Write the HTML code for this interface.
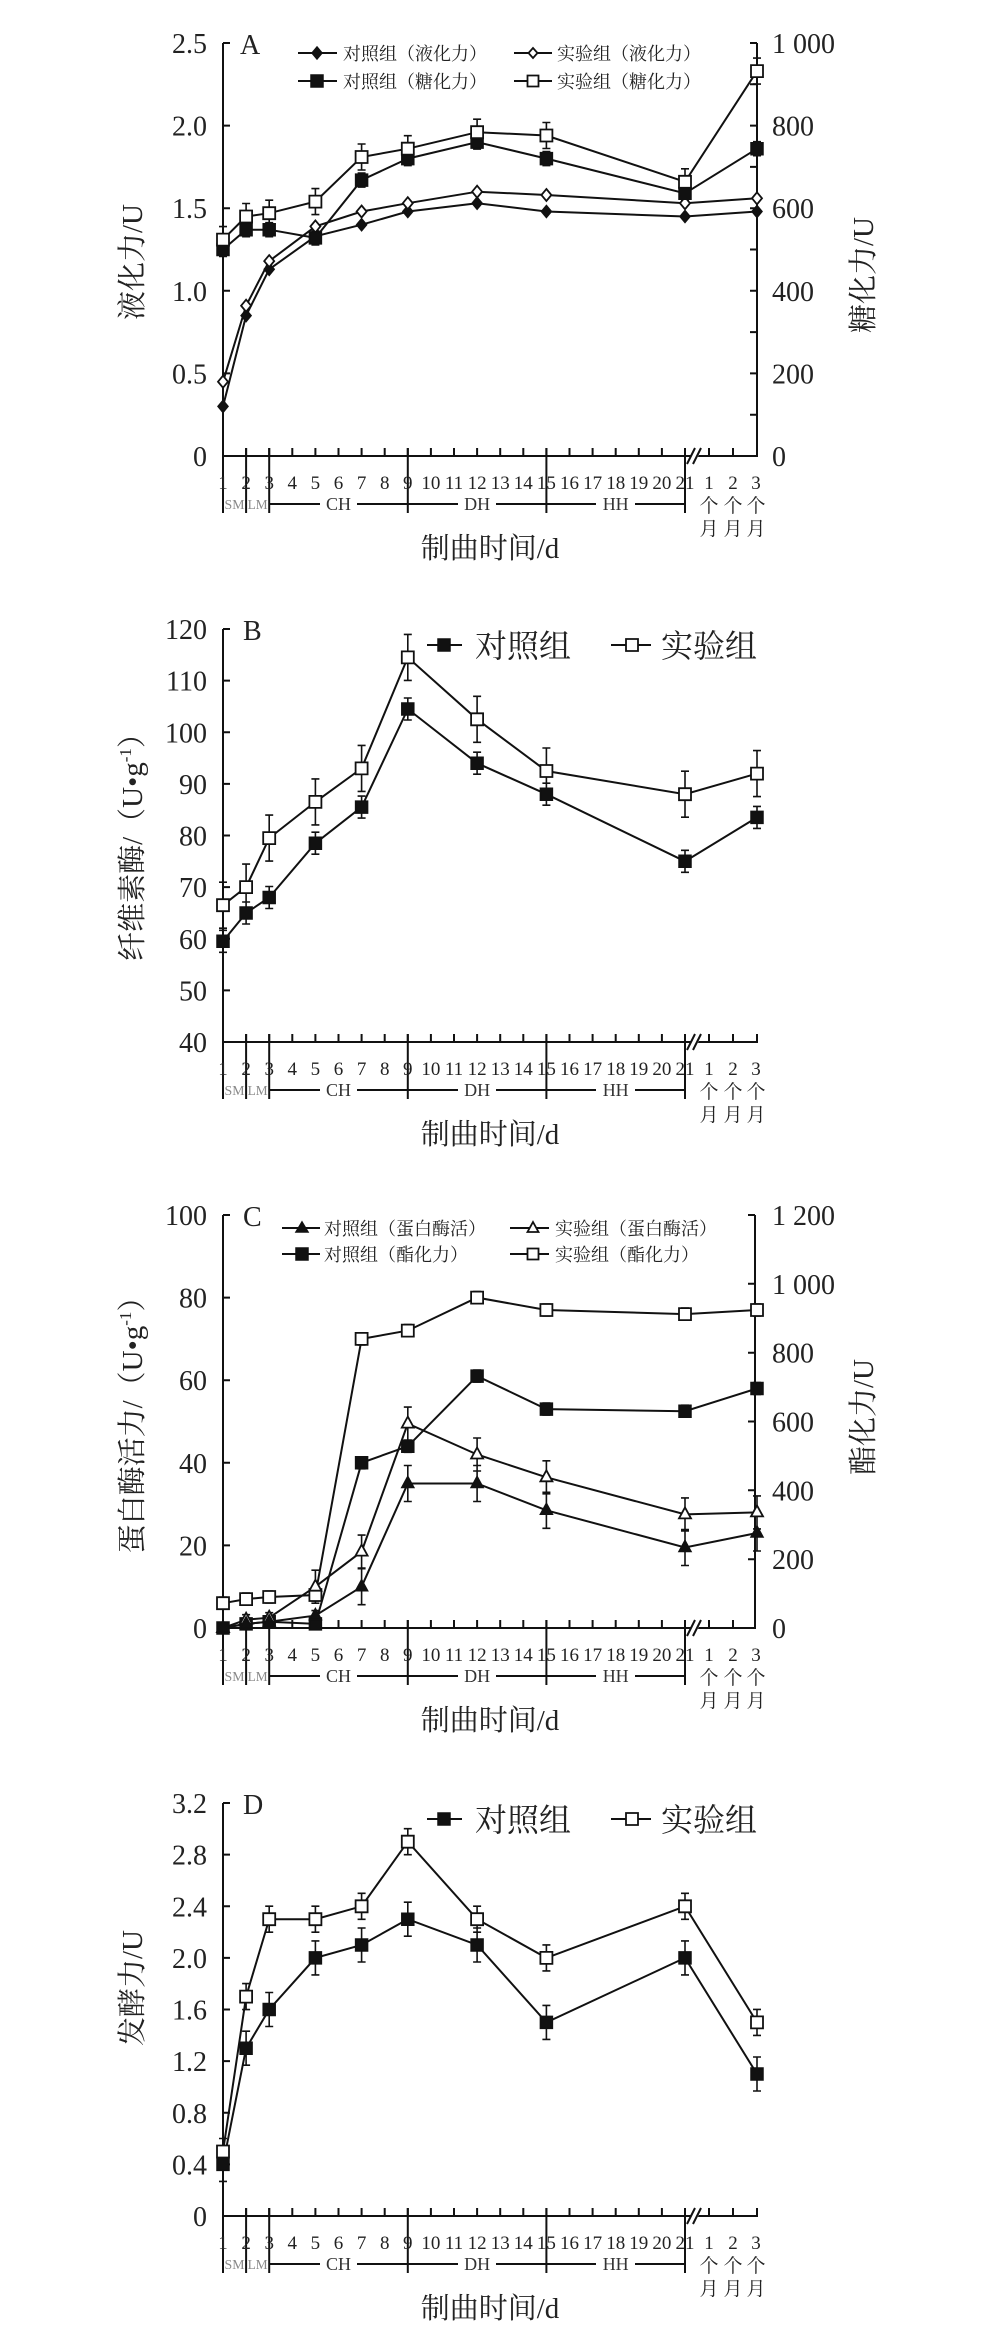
<!DOCTYPE html>
<html><head><meta charset="utf-8"><style>
html,body{margin:0;padding:0;background:#fff}
svg{display:block}
.n{font-family:"Liberation Serif","Noto Serif CJK SC",serif;font-size:28px;fill:#222}
.t{font-family:"Liberation Serif","Noto Serif CJK SC",serif;font-size:19px;fill:#222;text-anchor:middle}
.p{font-family:"Liberation Serif",serif;font-size:18px;fill:#333;text-anchor:middle}
.s{font-family:"Liberation Serif",serif;font-size:14px;fill:#888;text-anchor:middle}
.ti{font-family:"Liberation Serif","Noto Serif CJK SC",serif;font-size:29px;fill:#222;text-anchor:middle}
.lg{font-family:"Liberation Serif","Noto Serif CJK SC",serif;font-size:18px;fill:#222}
.lg2{font-family:"Liberation Serif","Noto Serif CJK SC",serif;font-size:32px;fill:#222}
.ax{stroke:#111;stroke-width:2;fill:none}
.ln{stroke:#111;stroke-width:2;fill:none}
.eb{stroke:#111;stroke-width:1.6;fill:none}
.f{fill:#111;stroke:#111;stroke-width:1.5}
.o{fill:#fff;stroke:#111;stroke-width:1.8}
.e{text-anchor:end}
</style></head><body>
<svg width="996" height="2349" viewBox="0 0 996 2349" xmlns="http://www.w3.org/2000/svg">

<!-- ================= PANEL A ================= -->
<g transform="translate(0,43)">
<path class="ax" d="M223,0V413H757V0M223,0h7M223,82.6h7M223,165.2h7M223,247.8h7M223,330.4h7M757,0h-7M757,41.3h-7M757,82.6h-7M757,123.9h-7M757,165.2h-7M757,206.5h-7M757,247.8h-7M757,289.1h-7M757,330.4h-7M757,371.7h-7"/>
<path class="ax" d="M246.1,413v-8M269.2,413v-8M292.3,413v-8M315.4,413v-8M338.5,413v-8M361.6,413v-8M384.7,413v-8M407.8,413v-8M430.9,413v-8M454,413v-8M477.1,413v-8M500.2,413v-8M523.3,413v-8M546.4,413v-8M569.5,413v-8M592.6,413v-8M615.7,413v-8M638.8,413v-8M661.9,413v-8M685,413v-8M709,413v-8M733,413v-8"/>
<path class="ax" d="M223,413V470M246.1,405V470M269.2,405V470M407.8,405V470M546.4,405V470M685,405V470M269.2,461H685"/>
<path stroke="#fff" stroke-width="6" d="M691,421L699,405"/>
<path class="ax" d="M687,421L695,405M693,421L701,405"/>
<rect x="320" y="450" width="37" height="22" fill="#fff"/><rect x="458" y="450" width="38" height="22" fill="#fff"/><rect x="596" y="450" width="39" height="22" fill="#fff"/>
<text class="p" x="338.5" y="467">CH</text><text class="p" x="477.1" y="467">DH</text><text class="p" x="615.7" y="467">HH</text>
<text class="s" x="234.5" y="466" textLength="20" lengthAdjust="spacingAndGlyphs">SM</text><text class="s" x="257.6" y="466" textLength="20" lengthAdjust="spacingAndGlyphs">LM</text>
<g class="t"><text x="223" y="446">1</text><text x="246.1" y="446">2</text><text x="269.2" y="446">3</text><text x="292.3" y="446">4</text><text x="315.4" y="446">5</text><text x="338.5" y="446">6</text><text x="361.6" y="446">7</text><text x="384.7" y="446">8</text><text x="407.8" y="446">9</text><text x="430.9" y="446">10</text><text x="454" y="446">11</text><text x="477.1" y="446">12</text><text x="500.2" y="446">13</text><text x="523.3" y="446">14</text><text x="546.4" y="446">15</text><text x="569.5" y="446">16</text><text x="592.6" y="446">17</text><text x="615.7" y="446">18</text><text x="638.8" y="446">19</text><text x="661.9" y="446">20</text><text x="685" y="446">21</text><text x="709" y="446">1</text><text x="733" y="446">2</text><text x="756" y="446">3</text>
<text x="709" y="469">个</text><text x="733" y="469">个</text><text x="756" y="469">个</text><text x="709" y="492">月</text><text x="733" y="492">月</text><text x="756" y="492">月</text></g>
<text class="ti" x="490" y="515">制曲时间/d</text>
<g class="n e"><text x="207" y="10">2.5</text><text x="207" y="92.6">2.0</text><text x="207" y="175.2">1.5</text><text x="207" y="257.8">1.0</text><text x="207" y="340.4">0.5</text><text x="207" y="423">0</text></g>
<g class="n"><text x="772" y="10">1 000</text><text x="772" y="92.6">800</text><text x="772" y="175.2">600</text><text x="772" y="257.8">400</text><text x="772" y="340.4">200</text><text x="772" y="423">0</text></g>
<text class="n" x="240" y="11">A</text>
<text class="ti" transform="translate(132,219) rotate(-90)" dy="10">液化力/U</text>
<text class="ti" transform="translate(863,232) rotate(-90)" dy="10">糖化力/U</text>
<path class="ln" d="M298,10H337M298,38H337M514,10H552M514,38H552"/>
<path class="f" d="M317,10m0,-6l5,6-5,6-5,-6z"/><path class="o" d="M533,10m0,-5l4.5,5-4.5,5-4.5,-5z"/>
<path class="f" d="M317,38m-6,-6h12v12h-12z"/><path class="o" d="M533,38m-5.5,-5.5h11v11h-11z"/>
<text class="lg" x="343" y="17">对照组（液化力）</text><text class="lg" x="557" y="17">实验组（液化力）</text>
<text class="lg" x="343" y="45">对照组（糖化力）</text><text class="lg" x="557" y="45">实验组（糖化力）</text>
<polyline class="ln" points="223,363.4 246.1,272.6 269.2,226.3 315.4,193.3 361.6,181.7 407.8,168.5 477.1,160.2 546.4,168.5 685,173.5 757,168.5"/>
<polyline class="ln" points="223,338.7 246.1,262.7 269.2,218.1 315.4,183.4 361.6,168.5 407.8,160.2 477.1,148.7 546.4,152 685,160.2 757,155.3"/>
<polyline class="ln" points="223,206.5 246.1,186.7 269.2,186.7 315.4,194.9 361.6,137.1 407.8,115.6 477.1,99.1 546.4,115.6 685,150.3 757,105.7"/>
<polyline class="ln" points="223,196.6 246.1,173.5 269.2,170.2 315.4,158.6 361.6,114 407.8,105.7 477.1,89.2 546.4,92.5 685,138.8 757,28.1"/>
<path class="eb" d="M223,183.6v26m-4,-26h8m-8,26h8M246.1,160.5v26m-4,-26h8m-8,26h8M269.2,157.2v26m-4,-26h8m-8,26h8M315.4,145.6v26m-4,-26h8m-8,26h8M361.6,101v26m-4,-26h8m-8,26h8M407.8,92.7v26m-4,-26h8m-8,26h8M477.1,76.2v26m-4,-26h8m-8,26h8M546.4,79.5v26m-4,-26h8m-8,26h8M685,125.8v26m-4,-26h8m-8,26h8M757,15.1v26m-4,-26h8m-8,26h8
M223,199.5v14m-4,-14h8m-8,14h8M246.1,179.7v14m-4,-14h8m-8,14h8M269.2,179.7v14m-4,-14h8m-8,14h8M315.4,187.9v14m-4,-14h8m-8,14h8M361.6,130.1v14m-4,-14h8m-8,14h8M407.8,108.6v14m-4,-14h8m-8,14h8M477.1,92.1v14m-4,-14h8m-8,14h8M546.4,108.6v14m-4,-14h8m-8,14h8M685,143.3v14m-4,-14h8m-8,14h8M757,98.7v14m-4,-14h8m-8,14h8
M223,359.4v8M246.1,268.6v8M269.2,222.3v8M315.4,189.3v8M361.6,177.7v8M407.8,164.5v8M477.1,156.2v8M546.4,164.5v8M685,169.5v8M757,164.5v8"/>
<path class="f" d="M223,363.4m0,-6l5,6-5,6-5,-6zM246.1,272.6m0,-6l5,6-5,6-5,-6zM269.2,226.3m0,-6l5,6-5,6-5,-6zM315.4,193.3m0,-6l5,6-5,6-5,-6zM361.6,181.7m0,-6l5,6-5,6-5,-6zM407.8,168.5m0,-6l5,6-5,6-5,-6zM477.1,160.2m0,-6l5,6-5,6-5,-6zM546.4,168.5m0,-6l5,6-5,6-5,-6zM685,173.5m0,-6l5,6-5,6-5,-6zM757,168.5m0,-6l5,6-5,6-5,-6z"/>
<path class="o" d="M223,338.7m0,-6l5,6-5,6-5,-6zM246.1,262.7m0,-6l5,6-5,6-5,-6zM269.2,218.1m0,-6l5,6-5,6-5,-6zM315.4,183.4m0,-6l5,6-5,6-5,-6zM361.6,168.5m0,-6l5,6-5,6-5,-6zM407.8,160.2m0,-6l5,6-5,6-5,-6zM477.1,148.7m0,-6l5,6-5,6-5,-6zM546.4,152m0,-6l5,6-5,6-5,-6zM685,160.2m0,-6l5,6-5,6-5,-6zM757,155.3m0,-6l5,6-5,6-5,-6z"/>
<path class="f" d="M223,206.5m-6,-6h12v12h-12zM246.1,186.7m-6,-6h12v12h-12zM269.2,186.7m-6,-6h12v12h-12zM315.4,194.9m-6,-6h12v12h-12zM361.6,137.1m-6,-6h12v12h-12zM407.8,115.6m-6,-6h12v12h-12zM477.1,99.1m-6,-6h12v12h-12zM546.4,115.6m-6,-6h12v12h-12zM685,150.3m-6,-6h12v12h-12zM757,105.7m-6,-6h12v12h-12z"/>
<path class="o" d="M223,196.6m-6,-6h12v12h-12zM246.1,173.5m-6,-6h12v12h-12zM269.2,170.2m-6,-6h12v12h-12zM315.4,158.6m-6,-6h12v12h-12zM361.6,114m-6,-6h12v12h-12zM407.8,105.7m-6,-6h12v12h-12zM477.1,89.2m-6,-6h12v12h-12zM546.4,92.5m-6,-6h12v12h-12zM685,138.8m-6,-6h12v12h-12zM757,28.1m-6,-6h12v12h-12z"/>
</g>

<!-- ================= PANEL B ================= -->
<g transform="translate(0,629)">
<path class="ax" d="M223,0V413H757V405M223,0h7M223,51.6h7M223,103.3h7M223,154.9h7M223,206.5h7M223,258.1h7M223,309.8h7M223,361.4h7"/>
<path class="ax" d="M246.1,413v-8M269.2,413v-8M292.3,413v-8M315.4,413v-8M338.5,413v-8M361.6,413v-8M384.7,413v-8M407.8,413v-8M430.9,413v-8M454,413v-8M477.1,413v-8M500.2,413v-8M523.3,413v-8M546.4,413v-8M569.5,413v-8M592.6,413v-8M615.7,413v-8M638.8,413v-8M661.9,413v-8M685,413v-8M709,413v-8M733,413v-8"/>
<path class="ax" d="M223,413V470M246.1,405V470M269.2,405V470M407.8,405V470M546.4,405V470M685,405V470M269.2,461H685"/>
<path stroke="#fff" stroke-width="6" d="M691,421L699,405"/>
<path class="ax" d="M687,421L695,405M693,421L701,405"/>
<rect x="320" y="450" width="37" height="22" fill="#fff"/><rect x="458" y="450" width="38" height="22" fill="#fff"/><rect x="596" y="450" width="39" height="22" fill="#fff"/>
<text class="p" x="338.5" y="467">CH</text><text class="p" x="477.1" y="467">DH</text><text class="p" x="615.7" y="467">HH</text>
<text class="s" x="234.5" y="466" textLength="20" lengthAdjust="spacingAndGlyphs">SM</text><text class="s" x="257.6" y="466" textLength="20" lengthAdjust="spacingAndGlyphs">LM</text>
<g class="t"><text x="223" y="446">1</text><text x="246.1" y="446">2</text><text x="269.2" y="446">3</text><text x="292.3" y="446">4</text><text x="315.4" y="446">5</text><text x="338.5" y="446">6</text><text x="361.6" y="446">7</text><text x="384.7" y="446">8</text><text x="407.8" y="446">9</text><text x="430.9" y="446">10</text><text x="454" y="446">11</text><text x="477.1" y="446">12</text><text x="500.2" y="446">13</text><text x="523.3" y="446">14</text><text x="546.4" y="446">15</text><text x="569.5" y="446">16</text><text x="592.6" y="446">17</text><text x="615.7" y="446">18</text><text x="638.8" y="446">19</text><text x="661.9" y="446">20</text><text x="685" y="446">21</text><text x="709" y="446">1</text><text x="733" y="446">2</text><text x="756" y="446">3</text>
<text x="709" y="469">个</text><text x="733" y="469">个</text><text x="756" y="469">个</text><text x="709" y="492">月</text><text x="733" y="492">月</text><text x="756" y="492">月</text></g>
<text class="ti" x="490" y="515">制曲时间/d</text>
<g class="n e"><text x="207" y="10">120</text><text x="207" y="61.6">110</text><text x="207" y="113.3">100</text><text x="207" y="164.9">90</text><text x="207" y="216.5">80</text><text x="207" y="268.1">70</text><text x="207" y="319.8">60</text><text x="207" y="371.4">50</text><text x="207" y="423">40</text></g>
<text class="n" x="243" y="11">B</text>
<text class="ti" transform="translate(132,211) rotate(-90)" dy="10">纤维素酶/（U•g<tspan font-size="17" dy="-11">-1</tspan><tspan dy="11">）</tspan></text>
<path class="ln" d="M427,16H462M611,16H651"/>
<path class="f" d="M444,16m-6,-6h12v12h-12z"/><path class="o" d="M632,16m-6,-6h12v12h-12z"/>
<text class="lg2" x="475" y="28">对照组</text><text class="lg2" x="661" y="28">实验组</text>
<polyline class="ln" points="223,312.3 246.1,284 269.2,268.5 315.4,214.2 361.6,178.1 407.8,80 477.1,134.2 546.4,165.2 685,232.3 757,188.4"/>
<polyline class="ln" points="223,276.2 246.1,258.1 269.2,209.1 315.4,172.9 361.6,139.4 407.8,28.4 477.1,90.3 546.4,142 685,165.2 757,144.6"/>
<path class="eb" d="M223,301.3v22m-4,-22h8m-8,22h8M246.1,273v22m-4,-22h8m-8,22h8M269.2,257.5v22m-4,-22h8m-8,22h8M315.4,203.2v22m-4,-22h8m-8,22h8M361.6,167.1v22m-4,-22h8m-8,22h8M407.8,69v22m-4,-22h8m-8,22h8M477.1,123.2v22m-4,-22h8m-8,22h8M546.4,154.2v22m-4,-22h8m-8,22h8M685,221.3v22m-4,-22h8m-8,22h8M757,177.4v22m-4,-22h8m-8,22h8
M223,253.2v46m-4,-46h8m-8,46h8M246.1,235.1v46m-4,-46h8m-8,46h8M269.2,186.1v46m-4,-46h8m-8,46h8M315.4,149.9v46m-4,-46h8m-8,46h8M361.6,116.4v46m-4,-46h8m-8,46h8M407.8,5.4v46m-4,-46h8m-8,46h8M477.1,67.3v46m-4,-46h8m-8,46h8M546.4,119v46m-4,-46h8m-8,46h8M685,142.2v46m-4,-46h8m-8,46h8M757,121.6v46m-4,-46h8m-8,46h8"/>
<path class="f" d="M223,312.3m-6,-6h12v12h-12zM246.1,284m-6,-6h12v12h-12zM269.2,268.5m-6,-6h12v12h-12zM315.4,214.2m-6,-6h12v12h-12zM361.6,178.1m-6,-6h12v12h-12zM407.8,80m-6,-6h12v12h-12zM477.1,134.2m-6,-6h12v12h-12zM546.4,165.2m-6,-6h12v12h-12zM685,232.3m-6,-6h12v12h-12zM757,188.4m-6,-6h12v12h-12z"/>
<path class="o" d="M223,276.2m-6,-6h12v12h-12zM246.1,258.1m-6,-6h12v12h-12zM269.2,209.1m-6,-6h12v12h-12zM315.4,172.9m-6,-6h12v12h-12zM361.6,139.4m-6,-6h12v12h-12zM407.8,28.4m-6,-6h12v12h-12zM477.1,90.3m-6,-6h12v12h-12zM546.4,142m-6,-6h12v12h-12zM685,165.2m-6,-6h12v12h-12zM757,144.6m-6,-6h12v12h-12z"/>
</g>

<!-- ================= PANEL C ================= -->
<g transform="translate(0,1215)">
<path class="ax" d="M223,0V413H755V0M223,0h7M223,82.6h7M223,165.2h7M223,247.8h7M223,330.4h7M755,0h-7M755,68.8h-7M755,137.7h-7M755,206.5h-7M755,275.3h-7M755,344.2h-7"/>
<path class="ax" d="M246.1,413v-8M269.2,413v-8M292.3,413v-8M315.4,413v-8M338.5,413v-8M361.6,413v-8M384.7,413v-8M407.8,413v-8M430.9,413v-8M454,413v-8M477.1,413v-8M500.2,413v-8M523.3,413v-8M546.4,413v-8M569.5,413v-8M592.6,413v-8M615.7,413v-8M638.8,413v-8M661.9,413v-8M685,413v-8M709,413v-8M733,413v-8"/>
<path class="ax" d="M223,413V470M246.1,405V470M269.2,405V470M407.8,405V470M546.4,405V470M685,405V470M269.2,461H685"/>
<path stroke="#fff" stroke-width="6" d="M691,421L699,405"/>
<path class="ax" d="M687,421L695,405M693,421L701,405"/>
<rect x="320" y="450" width="37" height="22" fill="#fff"/><rect x="458" y="450" width="38" height="22" fill="#fff"/><rect x="596" y="450" width="39" height="22" fill="#fff"/>
<text class="p" x="338.5" y="467">CH</text><text class="p" x="477.1" y="467">DH</text><text class="p" x="615.7" y="467">HH</text>
<text class="s" x="234.5" y="466" textLength="20" lengthAdjust="spacingAndGlyphs">SM</text><text class="s" x="257.6" y="466" textLength="20" lengthAdjust="spacingAndGlyphs">LM</text>
<g class="t"><text x="223" y="446">1</text><text x="246.1" y="446">2</text><text x="269.2" y="446">3</text><text x="292.3" y="446">4</text><text x="315.4" y="446">5</text><text x="338.5" y="446">6</text><text x="361.6" y="446">7</text><text x="384.7" y="446">8</text><text x="407.8" y="446">9</text><text x="430.9" y="446">10</text><text x="454" y="446">11</text><text x="477.1" y="446">12</text><text x="500.2" y="446">13</text><text x="523.3" y="446">14</text><text x="546.4" y="446">15</text><text x="569.5" y="446">16</text><text x="592.6" y="446">17</text><text x="615.7" y="446">18</text><text x="638.8" y="446">19</text><text x="661.9" y="446">20</text><text x="685" y="446">21</text><text x="709" y="446">1</text><text x="733" y="446">2</text><text x="756" y="446">3</text>
<text x="709" y="469">个</text><text x="733" y="469">个</text><text x="756" y="469">个</text><text x="709" y="492">月</text><text x="733" y="492">月</text><text x="756" y="492">月</text></g>
<text class="ti" x="490" y="515">制曲时间/d</text>
<g class="n e"><text x="207" y="10">100</text><text x="207" y="92.6">80</text><text x="207" y="175.2">60</text><text x="207" y="257.8">40</text><text x="207" y="340.4">20</text><text x="207" y="423">0</text></g>
<g class="n"><text x="772" y="10">1 200</text><text x="772" y="78.8">1 000</text><text x="772" y="147.7">800</text><text x="772" y="216.5">600</text><text x="772" y="285.3">400</text><text x="772" y="354.2">200</text><text x="772" y="423">0</text></g>
<text class="n" x="243" y="11">C</text>
<text class="ti" transform="translate(132,203) rotate(-90)" dy="10">蛋白酶活力/（U•g<tspan font-size="17" dy="-11">-1</tspan><tspan dy="11">）</tspan></text>
<text class="ti" transform="translate(863,202) rotate(-90)" dy="10">酯化力/U</text>
<path class="ln" d="M282,13H320M282,39H320M510,13H549M510,39H549"/>
<path class="f" d="M302,13m0,-6l6,10h-12z"/><path class="o" d="M533,13m0,-6l5.5,10h-11z"/>
<path class="f" d="M302,39m-6,-6h12v12h-12z"/><path class="o" d="M533,39m-5.5,-5.5h11v11h-11z"/>
<text class="lg" x="324" y="20">对照组（蛋白酶活）</text><text class="lg" x="555" y="20">实验组（蛋白酶活）</text>
<text class="lg" x="324" y="46">对照组（酯化力）</text><text class="lg" x="555" y="46">实验组（酯化力）</text>
<polyline class="ln" points="223,413 246.1,408.9 269.2,406.8 315.4,400.6 361.6,371.7 407.8,268.5 477.1,268.5 546.4,295.3 685,332.5 757,318"/>
<polyline class="ln" points="223,413 246.1,404.7 269.2,402.7 315.4,371.7 361.6,336.6 407.8,208.6 477.1,239.5 546.4,262.3 685,299.4 757,297.4"/>
<polyline class="ln" points="223,413 246.1,408.9 269.2,406.8 315.4,408.9 361.6,247.8 407.8,231.3 477.1,161.1 546.4,194.1 685,196.2 757,173.5"/>
<polyline class="ln" points="223,388.2 246.1,384.1 269.2,382 315.4,380 361.6,123.9 407.8,115.6 477.1,82.6 546.4,95 685,99.1 757,95"/>
<path class="eb" d="M223,408v10m-4,-10h8m-8,10h8M246.1,403.9v10m-4,-10h8m-8,10h8M269.2,401.8v10m-4,-10h8m-8,10h8M315.4,395.6v10m-4,-10h8m-8,10h8M361.6,353.7v36m-4,-36h8m-8,36h8M407.8,250.5v36m-4,-36h8m-8,36h8M477.1,250.5v36m-4,-36h8m-8,36h8M546.4,277.3v36m-4,-36h8m-8,36h8M685,314.5v36m-4,-36h8m-8,36h8M757,300v36m-4,-36h8m-8,36h8
M246.1,399.7v10m-4,-10h8m-8,10h8M269.2,397.7v10m-4,-10h8m-8,10h8M315.4,355.2v33m-4,-33h8m-8,33h8M361.6,320.1v33m-4,-33h8m-8,33h8M407.8,192.1v33m-4,-33h8m-8,33h8M477.1,223v33m-4,-33h8m-8,33h8M546.4,245.8v33m-4,-33h8m-8,33h8M685,282.9v33m-4,-33h8m-8,33h8M757,280.9v33m-4,-33h8m-8,33h8
M361.6,241.8v12m-4,-12h8m-8,12h8M407.8,225.3v12m-4,-12h8m-8,12h8M477.1,155.1v12m-4,-12h8m-8,12h8M546.4,188.1v12m-4,-12h8m-8,12h8M685,190.2v12m-4,-12h8m-8,12h8M757,167.5v12m-4,-12h8m-8,12h8
M223,382.2v12m-4,-12h8m-8,12h8M246.1,378.1v12m-4,-12h8m-8,12h8M269.2,376v12m-4,-12h8m-8,12h8M315.4,374v12m-4,-12h8m-8,12h8M361.6,117.9v12m-4,-12h8m-8,12h8M407.8,109.6v12m-4,-12h8m-8,12h8M477.1,76.6v12m-4,-12h8m-8,12h8M546.4,89v12m-4,-12h8m-8,12h8M685,93.1v12m-4,-12h8m-8,12h8M757,89v12m-4,-12h8m-8,12h8"/>
<path class="f" d="M223,413m-6,-6h12v12h-12zM246.1,408.9m-6,-6h12v12h-12zM269.2,406.8m-6,-6h12v12h-12zM315.4,408.9m-6,-6h12v12h-12zM361.6,247.8m-6,-6h12v12h-12zM407.8,231.3m-6,-6h12v12h-12zM477.1,161.1m-6,-6h12v12h-12zM546.4,194.1m-6,-6h12v12h-12zM685,196.2m-6,-6h12v12h-12zM757,173.5m-6,-6h12v12h-12z"/>
<path class="o" d="M223,388.2m-6,-6h12v12h-12zM246.1,384.1m-6,-6h12v12h-12zM269.2,382m-6,-6h12v12h-12zM315.4,380m-6,-6h12v12h-12zM361.6,123.9m-6,-6h12v12h-12zM407.8,115.6m-6,-6h12v12h-12zM477.1,82.6m-6,-6h12v12h-12zM546.4,95m-6,-6h12v12h-12zM685,99.1m-6,-6h12v12h-12zM757,95m-6,-6h12v12h-12z"/>
<path class="o" d="M223,413m0,-7l6,11h-12zM246.1,404.7m0,-7l6,11h-12zM269.2,402.7m0,-7l6,11h-12zM315.4,371.7m0,-7l6,11h-12zM361.6,336.6m0,-7l6,11h-12zM407.8,208.6m0,-7l6,11h-12zM477.1,239.5m0,-7l6,11h-12zM546.4,262.3m0,-7l6,11h-12zM685,299.4m0,-7l6,11h-12zM757,297.4m0,-7l6,11h-12z"/>
<path class="f" d="M223,413m0,-7l6,11h-12zM246.1,408.9m0,-7l6,11h-12zM269.2,406.8m0,-7l6,11h-12zM315.4,400.6m0,-7l6,11h-12zM361.6,371.7m0,-7l6,11h-12zM407.8,268.5m0,-7l6,11h-12zM477.1,268.5m0,-7l6,11h-12zM546.4,295.3m0,-7l6,11h-12zM685,332.5m0,-7l6,11h-12zM757,318m0,-7l6,11h-12z"/>
</g>

<!-- ================= PANEL D ================= -->
<g transform="translate(0,1803)">
<path class="ax" d="M223,0V413H757V405M223,0h7M223,51.6h7M223,103.3h7M223,154.9h7M223,206.5h7M223,258.1h7M223,309.8h7M223,361.4h7"/>
<path class="ax" d="M246.1,413v-8M269.2,413v-8M292.3,413v-8M315.4,413v-8M338.5,413v-8M361.6,413v-8M384.7,413v-8M407.8,413v-8M430.9,413v-8M454,413v-8M477.1,413v-8M500.2,413v-8M523.3,413v-8M546.4,413v-8M569.5,413v-8M592.6,413v-8M615.7,413v-8M638.8,413v-8M661.9,413v-8M685,413v-8M709,413v-8M733,413v-8"/>
<path class="ax" d="M223,413V470M246.1,405V470M269.2,405V470M407.8,405V470M546.4,405V470M685,405V470M269.2,461H685"/>
<path stroke="#fff" stroke-width="6" d="M691,421L699,405"/>
<path class="ax" d="M687,421L695,405M693,421L701,405"/>
<rect x="320" y="450" width="37" height="22" fill="#fff"/><rect x="458" y="450" width="38" height="22" fill="#fff"/><rect x="596" y="450" width="39" height="22" fill="#fff"/>
<text class="p" x="338.5" y="467">CH</text><text class="p" x="477.1" y="467">DH</text><text class="p" x="615.7" y="467">HH</text>
<text class="s" x="234.5" y="466" textLength="20" lengthAdjust="spacingAndGlyphs">SM</text><text class="s" x="257.6" y="466" textLength="20" lengthAdjust="spacingAndGlyphs">LM</text>
<g class="t"><text x="223" y="446">1</text><text x="246.1" y="446">2</text><text x="269.2" y="446">3</text><text x="292.3" y="446">4</text><text x="315.4" y="446">5</text><text x="338.5" y="446">6</text><text x="361.6" y="446">7</text><text x="384.7" y="446">8</text><text x="407.8" y="446">9</text><text x="430.9" y="446">10</text><text x="454" y="446">11</text><text x="477.1" y="446">12</text><text x="500.2" y="446">13</text><text x="523.3" y="446">14</text><text x="546.4" y="446">15</text><text x="569.5" y="446">16</text><text x="592.6" y="446">17</text><text x="615.7" y="446">18</text><text x="638.8" y="446">19</text><text x="661.9" y="446">20</text><text x="685" y="446">21</text><text x="709" y="446">1</text><text x="733" y="446">2</text><text x="756" y="446">3</text>
<text x="709" y="469">个</text><text x="733" y="469">个</text><text x="756" y="469">个</text><text x="709" y="492">月</text><text x="733" y="492">月</text><text x="756" y="492">月</text></g>
<text class="ti" x="490" y="515">制曲时间/d</text>
<g class="n e"><text x="207" y="10">3.2</text><text x="207" y="61.6">2.8</text><text x="207" y="113.3">2.4</text><text x="207" y="164.9">2.0</text><text x="207" y="216.5">1.6</text><text x="207" y="268.1">1.2</text><text x="207" y="319.8">0.8</text><text x="207" y="371.4">0.4</text><text x="207" y="423">0</text></g>
<text class="n" x="243" y="11">D</text>
<text class="ti" transform="translate(132,185) rotate(-90)" dy="10">发酵力/U</text>
<path class="ln" d="M427,16H462M611,16H651"/>
<path class="f" d="M444,16m-6,-6h12v12h-12z"/><path class="o" d="M632,16m-6,-6h12v12h-12z"/>
<text class="lg2" x="475" y="28">对照组</text><text class="lg2" x="661" y="28">实验组</text>
<polyline class="ln" points="223,361.4 246.1,245.2 269.2,206.5 315.4,154.9 361.6,142 407.8,116.2 477.1,142 546.4,219.4 685,154.9 757,271"/>
<polyline class="ln" points="223,348.5 246.1,193.6 269.2,116.2 315.4,116.2 361.6,103.3 407.8,38.7 477.1,116.2 546.4,154.9 685,103.3 757,219.4"/>
<path class="eb" d="M223,344.4v34m-4,-34h8m-8,34h8M246.1,228.2v34m-4,-34h8m-8,34h8M269.2,189.5v34m-4,-34h8m-8,34h8M315.4,137.9v34m-4,-34h8m-8,34h8M361.6,125v34m-4,-34h8m-8,34h8M407.8,99.2v34m-4,-34h8m-8,34h8M477.1,125v34m-4,-34h8m-8,34h8M546.4,202.4v34m-4,-34h8m-8,34h8M685,137.9v34m-4,-34h8m-8,34h8M757,254v34m-4,-34h8m-8,34h8
M223,335.5v26m-4,-26h8m-8,26h8M246.1,180.6v26m-4,-26h8m-8,26h8M269.2,103.2v26m-4,-26h8m-8,26h8M315.4,103.2v26m-4,-26h8m-8,26h8M361.6,90.3v26m-4,-26h8m-8,26h8M407.8,25.7v26m-4,-26h8m-8,26h8M477.1,103.2v26m-4,-26h8m-8,26h8M546.4,141.9v26m-4,-26h8m-8,26h8M685,90.3v26m-4,-26h8m-8,26h8M757,206.4v26m-4,-26h8m-8,26h8"/>
<path class="f" d="M223,361.4m-6,-6h12v12h-12zM246.1,245.2m-6,-6h12v12h-12zM269.2,206.5m-6,-6h12v12h-12zM315.4,154.9m-6,-6h12v12h-12zM361.6,142m-6,-6h12v12h-12zM407.8,116.2m-6,-6h12v12h-12zM477.1,142m-6,-6h12v12h-12zM546.4,219.4m-6,-6h12v12h-12zM685,154.9m-6,-6h12v12h-12zM757,271m-6,-6h12v12h-12z"/>
<path class="o" d="M223,348.5m-6,-6h12v12h-12zM246.1,193.6m-6,-6h12v12h-12zM269.2,116.2m-6,-6h12v12h-12zM315.4,116.2m-6,-6h12v12h-12zM361.6,103.3m-6,-6h12v12h-12zM407.8,38.7m-6,-6h12v12h-12zM477.1,116.2m-6,-6h12v12h-12zM546.4,154.9m-6,-6h12v12h-12zM685,103.3m-6,-6h12v12h-12zM757,219.4m-6,-6h12v12h-12z"/>
</g>
</svg>
</body></html>
